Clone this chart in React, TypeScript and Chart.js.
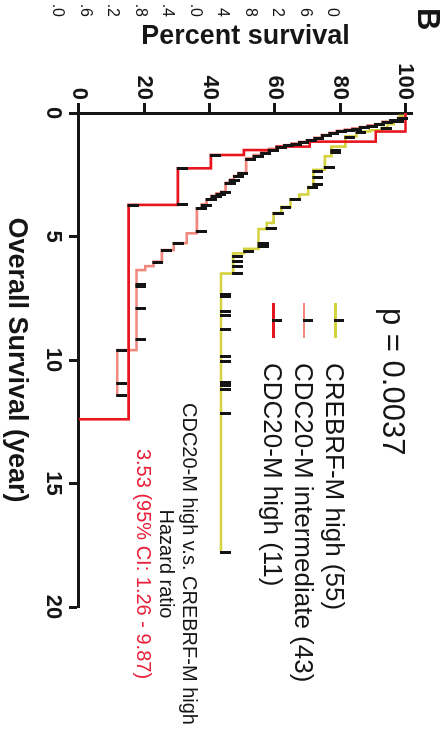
import React, { useEffect, useRef } from "react";
import { Chart, registerables } from "chart.js";

Chart.register(...registerables);

// ---- data -------------------------------------------------------------
const groupNames = ["CREBRF-M high (55)", "CDC20-M intermediate (43)", "CDC20-M high (11)"];
const groupColors = ["#d4d23e", "#f0887e", "#e8151f"];

const xTickValues = [0, 5, 10, 15, 20];
const yTickValues = [0, 20, 40, 60, 80, 100];

const xTitle = "Overall Survival (year)";
const yTitle = "Percent survival";

// CREBRF-M high
const yellowTime = [0, 0.12, 0.3, 0.45, 0.6, 0.7, 0.75, 0.95, 1.36, 1.75, 2.3, 3.0, 3.3, 3.5, 3.8, 4.05, 4.45, 4.7, 5.5, 5.68, 6.5, 17.8];
const yellowSurv = [100, 98.2, 96.4, 94.5, 92.7, 89.1, 85.0, 81.6, 77.3, 75.3, 71.8, 70.2, 67.5, 64.8, 62.0, 59.6, 57.5, 55.0, 50.6, 47.2, 43.5, 43.5];
const yellowCensor = [0.35, 0.62, 0.8, 1.0, 1.5, 1.6, 2.2, 2.35, 2.63, 2.9, 3.02, 3.52, 3.82, 4.08, 4.66, 5.27, 5.41, 5.6, 5.8, 6.0, 6.2, 6.48, 7.33, 7.42, 8.04, 8.18, 8.76, 9.87, 10.07, 10.92, 11.05, 11.19, 12.16, 17.8];

// CDC20-M intermediate
const pinkTime = [0, 0.2, 0.3, 0.35, 0.45, 0.5, 0.57, 0.62, 0.67, 0.72, 0.8, 0.89, 1.0, 1.1, 1.17, 1.23, 1.3, 1.36, 1.45, 1.57, 1.7, 1.83, 2.43, 2.55, 2.7, 2.83, 3.19, 3.25, 3.35, 3.5, 3.7, 3.86, 4.87, 5.27, 5.55, 6.02, 6.2, 6.36, 9.6, 11.45];
const pinkSurv = [100, 97.7, 95.3, 93.0, 90.7, 88.4, 86.0, 83.7, 81.4, 79.0, 76.7, 74.4, 72.1, 69.8, 67.4, 65.1, 62.8, 60.5, 58.1, 55.8, 53.5, 51.2, 48.8, 47.5, 46.2, 44.9, 43.5, 42.1, 40.6, 39.1, 37.6, 36.1, 33.0, 29.0, 25.4, 22.8, 20.3, 17.6, 11.7, 11.7];
const pinkCensor = [0.22, 0.32, 0.4, 0.47, 0.53, 0.6, 0.65, 0.7, 0.76, 0.85, 0.93, 1.05, 1.13, 1.2, 1.27, 1.33, 1.4, 1.5, 1.62, 1.75, 1.9, 2.45, 2.58, 2.72, 2.85, 3.21, 3.28, 3.4, 3.52, 3.75, 3.88, 4.8, 5.3, 5.58, 6.05, 6.96, 7.02, 7.9, 9.19, 9.62, 10.97, 11.45];

// CDC20-M high
const redTime = [0, 0.75, 1.16, 1.36, 1.5, 1.7, 2.24, 3.72, 12.4];
const redSurv = [100, 90.9, 70.7, 60.6, 50.5, 40.4, 30.3, 15.2, 0];
const redCensor = [1.38, 1.72, 2.26, 3.7, 3.74];

const pValueText = "p = 0.0037";
const hrTitleLines = ["CDC20-M high v.s. CREBRF-M high", "Hazard ratio"];
const hrValueText = "3.53 (95% CI: 1.26 - 9.87)";
const panelLabel = "B";
const neighbourTickFragments = ["0", "6", "2", "8", "4", ".0", ".4", ".8", ".2", ".6", ".0"];

// ---- helpers ----------------------------------------------------------
function survAt(times: number[], surv: number[], t: number): number {
  let v = surv[0];
  for (let i = 0; i < times.length; i++) {
    if (times[i] <= t) v = surv[i];
  }
  return v;
}

const FONT = "'Liberation Sans', Arial, Helvetica, sans-serif";
const W = 740;
const H = 442;

export default function App() {
  const ref = useRef<HTMLCanvasElement>(null);

  useEffect(() => {
    if (!ref.current) return;
    const tick = document.createElement("canvas");
    tick.width = 3;
    tick.height = 20;
    const tctx = tick.getContext("2d")!;
    tctx.fillStyle = "#141414";
    tctx.fillRect(0, 0, 3, 11);

    const groups = [
      { time: yellowTime, surv: yellowSurv, censor: yellowCensor },
      { time: pinkTime, surv: pinkSurv, censor: pinkCensor },
      { time: redTime, surv: redSurv, censor: redCensor },
    ];

    const datasets: any[] = [];
    groups.forEach((g, i) => {
      datasets.push({
        label: groupNames[i],
        data: g.time.map((t, j) => ({ x: t, y: g.surv[j] })),
        borderColor: groupColors[i],
        backgroundColor: groupColors[i],
        borderWidth: 2.6,
        stepped: "before",
        pointRadius: 0,
        fill: false,
        clip: false,
        order: 3 - i,
      });
      datasets.push({
        label: groupNames[i] + " censored",
        data: g.censor.map((t) => ({ x: t, y: survAt(g.time, g.surv, t) })),
        showLine: false,
        pointStyle: tick,
        pointRadius: 5,
        clip: false,
        order: 0,
      });
    });

    const axisColor = "#161616";
    const chart = new Chart(ref.current, {
      type: "line",
      data: { datasets },
      options: {
        animation: false,
        responsive: false,
        devicePixelRatio: 1,
        events: [],
        layout: { padding: { top: 30, right: 133, bottom: 0, left: 0 } },
        plugins: { legend: { display: false }, tooltip: { enabled: false } },
        scales: {
          x: {
            type: "linear",
            position: "bottom",
            min: 0,
            max: 20,
            afterBuildTicks: (s: any) => {
              s.ticks = xTickValues.map((v) => ({ value: v }));
            },
            afterFit: (s: any) => {
              s.height = 79;
            },
            ticks: {
              color: axisColor,
              padding: 3,
              font: { family: FONT, size: 22, weight: "bold" },
            },
            grid: {
              display: true,
              drawOnChartArea: false,
              drawTicks: true,
              tickLength: 10,
              tickWidth: 3,
              color: axisColor,
            },
            border: { display: true, width: 3, color: axisColor },
            title: {
              display: true,
              text: xTitle,
              color: axisColor,
              font: { family: FONT, size: 27, weight: "bold" },
              padding: { top: 0, bottom: 0 },
            },
          },
          y: {
            type: "linear",
            position: "left",
            min: 0,
            max: 102,
            afterBuildTicks: (s: any) => {
              s.ticks = yTickValues.map((v) => ({ value: v }));
            },
            afterFit: (s: any) => {
              s.width = 113;
            },
            ticks: {
              color: axisColor,
              padding: 3,
              font: { family: FONT, size: 22, weight: "bold" },
            },
            grid: {
              display: true,
              drawOnChartArea: false,
              drawTicks: true,
              tickLength: 10,
              tickWidth: 3,
              color: axisColor,
            },
            border: { display: true, width: 3, color: axisColor },
            title: {
              display: true,
              text: yTitle,
              color: axisColor,
              font: { family: FONT, size: 27, weight: "bold" },
              padding: { top: 20, bottom: 0 },
            },
          },
        },
      },
    } as any);
    return () => chart.destroy();
  }, []);

  const legendRows = [106.5, 138, 168.5];

  return (
    <div
      style={{
        position: "fixed",
        left: 0,
        top: 0,
        width: W,
        height: H,
        transformOrigin: "0 0",
        transform: `translate(${H}px, 0px) rotate(90deg)`,
        background: "#fff",
        fontFamily: FONT,
        color: "#161616",
        overflow: "hidden",
      }}
    >
      <canvas ref={ref} width={W} height={H} style={{ display: "block", width: W, height: H }} />

      {/* panel label */}
      <div style={{ position: "absolute", left: 8, top: -2, fontSize: 31, lineHeight: "31px", fontWeight: "bold" }}>
        {panelLabel}
      </div>

      {/* clipped tick labels of the neighbouring panel */}
      {neighbourTickFragments.map((t, i) => (
        <div
          key={"n" + i}
          style={{
            position: "absolute",
            left: -13,
            width: 30,
            textAlign: "right",
            top: 108.5 + i * 27.5 - 8,
            fontSize: 16,
            lineHeight: "16px",
          }}
        >
          {t}
        </div>
      ))}

      {/* p value */}
      <div style={{ position: "absolute", left: 308, top: 32.5, fontSize: 31, lineHeight: "31px", whiteSpace: "nowrap" }}>
        {pValueText}
      </div>

      {/* legend */}
      {groupNames.map((name, i) => (
        <React.Fragment key={"l" + i}>
          <div
            style={{
              position: "absolute",
              left: 303,
              top: legendRows[i] - 1.3,
              width: 35,
              height: 2.6,
              background: groupColors[i],
            }}
          />
          <div
            style={{
              position: "absolute",
              left: 319,
              top: legendRows[i] - 9,
              width: 3,
              height: 10,
              background: "#141414",
            }}
          />
          <div
            style={{
              position: "absolute",
              left: 363,
              top: legendRows[i] - 13,
              fontSize: 26,
              lineHeight: "26px",
              whiteSpace: "nowrap",
            }}
          >
            {name}
          </div>
        </React.Fragment>
      ))}

      {/* hazard ratio */}
      <div
        style={{
          position: "absolute",
          left: 364,
          width: 400,
          top: 241,
          textAlign: "center",
          fontSize: 20,
          lineHeight: "23px",
          whiteSpace: "nowrap",
        }}
      >
        {hrTitleLines.map((l, i) => (
          <div key={"h" + i}>{l}</div>
        ))}
        <div style={{ color: "#e8203a" }}>{hrValueText}</div>
      </div>
    </div>
  );
}
